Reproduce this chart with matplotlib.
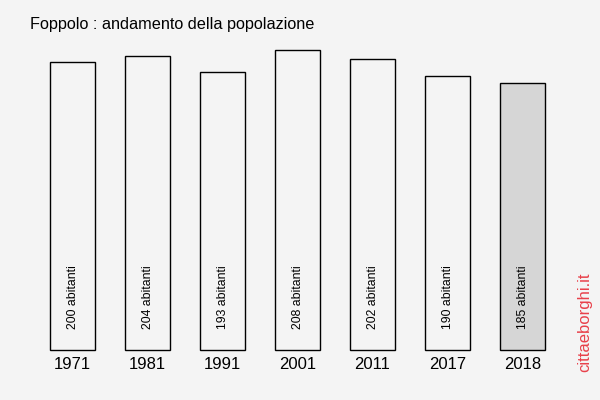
#andamento della popolazione di Foppolo
import matplotlib.pyplot as plt

plt.rcParams['font.family'] = ['Liberation Sans', 'DejaVu Sans']

anni = ["1971", "1981", "1991", "2001", "2011", "2017", "2018"]
abitanti = [200, 204, 193, 208, 202, 190, 185]
etichette = [f"{v} abitanti" for v in abitanti]

bg = "#f4f4f4"
colori = [bg] * (len(anni) - 1) + ["#d6d6d6"]

fig = plt.figure(figsize=(6, 4), dpi=100, facecolor=bg)
ax = fig.add_axes([0, 0, 1, 1])
ax.set_facecolor(bg)

pos = list(range(len(anni)))
ax.bar(pos, abitanti, width=0.6, color=colori, edgecolor="black", linewidth=1)

#labels inside bars and years below
for i in pos:
    ax.text(i, 14.5, etichette[i], rotation=90, ha="center", va="bottom", fontsize=8.8)
    ax.text(i, -10, anni[i], ha="center", va="center", fontsize=12)

ax.set_xlim(-0.9667, 7.0333)
ax.set_ylim(-34.67, 242.7)
ax.axis("off")

fig.text(30 / 600, 1 - 24 / 400, "Foppolo : andamento della popolazione",
         ha="left", va="center", fontsize=11.7)
fig.text(585 / 600, 1 - 322 / 400, "cittaeborghi.it", rotation=90,
         ha="center", va="center", fontsize=12, color="#e8404a")

fig.savefig("out.png", dpi=100, facecolor=bg)
